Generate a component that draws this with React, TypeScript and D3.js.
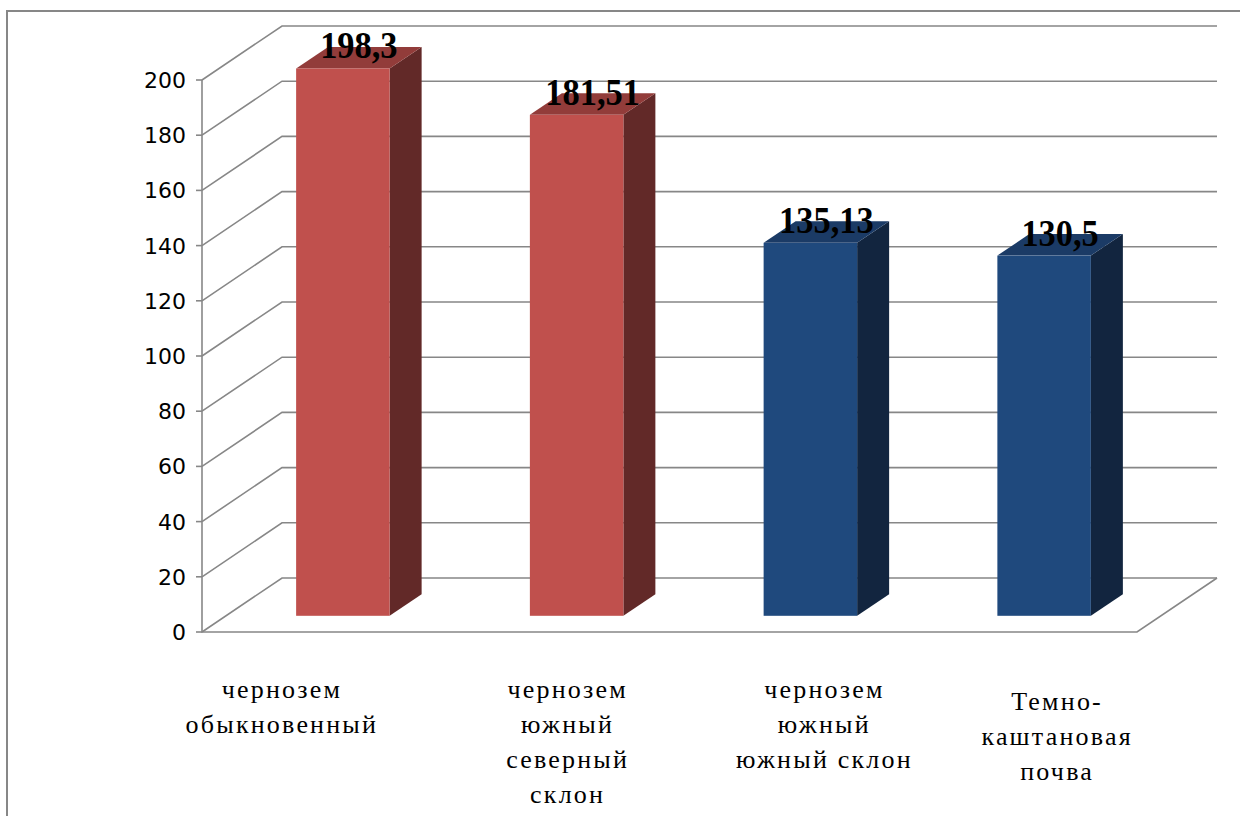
import React from 'react';
import * as d3 from 'd3';

// values
const categories = [
  ['чернозем', 'обыкновенный'],
  ['чернозем', 'южный', 'северный', 'склон'],
  ['чернозем', 'южный', 'южный склон'],
  ['Темно-', 'каштановая', 'почва'],
];
const values = [198.3, 181.51, 135.13, 130.5];
const valueLabels = ['198,3', '181,51', '135,13', '130,5'];
const yTicks = [0, 20, 40, 60, 80, 100, 120, 140, 160, 180, 200];

const red = { front: '#C0504D', side: '#622928', top: '#923C3A' };
const blue = { front: '#1F497D', side: '#12253F', top: '#1B3B66' };
const palette = [red, red, blue, blue];

const W = 1240;
const H = 816;
const left = 202;
const right = 1137;
const y = d3.scaleLinear().domain([0, 200]).range([632, 80]);
const depthX = 80;
const depthY = -54;
const x = d3
  .scaleBand<number>()
  .domain(d3.range(values.length))
  .range([left, right])
  .paddingInner(0.6)
  .paddingOuter(0.3);
const step = x.step();
// bars stand between 30% and 70% of the floor depth
const d0 = 0.3;
const d1 = 0.7;
const labelNudge = [-37, 15, 38, 37];
const labelDrop = [0, 0, 0, 12];
const gridColor = '#878787';

const App = () => {
  const line = d3.line();
  return (
    <svg width={W} height={H} style={{ position: 'absolute', left: 0, top: 0, background: '#fff' }}>
      <rect x={7} y={11} width={1260} height={840} fill="none" stroke={gridColor} strokeWidth={2} />

      {/* back wall gridlines and side wall diagonals */}
      {yTicks.map(t => (
        <g key={t} stroke={gridColor} strokeWidth={1.6} fill="none">
          <path d={line([[left, y(t)], [left + depthX, y(t) + depthY], [1217, y(t) + depthY]]) || ''} />
          <path d={line([[left - 6, y(t)], [left, y(t)]]) || ''} />
        </g>
      ))}
      {/* axis and floor */}
      <g stroke={gridColor} strokeWidth={1.6} fill="none">
        <path d={line([[left, y(200)], [left, y(0)], [right, y(0)], [right + depthX, y(0) + depthY]]) || ''} />
      </g>

      {yTicks.map(t => (
        <text
          key={t}
          x={186}
          y={y(t)}
          dy="0.36em"
          textAnchor="end"
          fontFamily="DejaVu Sans, Verdana, sans-serif"
          fontSize={22}
          fill="#000"
        >
          {t}
        </text>
      ))}

      {values.map((v, i) => {
        const c = palette[i];
        const fx = (x(i) || 0) + depthX * d0;
        const bw = x.bandwidth();
        const by = y(0) + depthY * d0;
        const ty = by - (y(0) - y(v));
        const ddx = depthX * (d1 - d0);
        const ddy = depthY * (d1 - d0);
        const lx = fx + bw / 2 + ddx / 2;
        return (
          <g key={i}>
            <path
              d={line([[fx + bw, ty], [fx + bw + ddx, ty + ddy], [fx + bw + ddx, by + ddy], [fx + bw, by]])! + 'Z'}
              fill={c.side}
            />
            <path
              d={line([[fx, ty], [fx + ddx, ty + ddy], [fx + bw + ddx, ty + ddy], [fx + bw, ty]])! + 'Z'}
              fill={c.top}
            />
            <rect x={fx} y={ty} width={bw} height={by - ty} fill={c.front} />
            <text
              transform={`translate(${lx},${ty - 10}) scale(0.93,1)`}
              textAnchor="middle"
              fontFamily="'Liberation Serif', 'Times New Roman', serif"
              fontWeight="bold"
              fontSize={37}
              fill="#000"
            >
              {valueLabels[i]}
            </text>
          </g>
        );
      })}

      {categories.map((lines, i) => {
        const cx = left + step * (i + 0.5) + labelNudge[i];
        return (
          <text
            key={i}
            textAnchor="middle"
            fontFamily="'Liberation Serif', 'Times New Roman', serif"
            fontSize={26}
            letterSpacing={2.2}
            fill="#000"
          >
            {lines.map((s, j) => (
              <tspan key={j} x={cx} y={698 + labelDrop[i] + j * 35}>
                {s}
              </tspan>
            ))}
          </text>
        );
      })}
    </svg>
  );
};

export default App;
